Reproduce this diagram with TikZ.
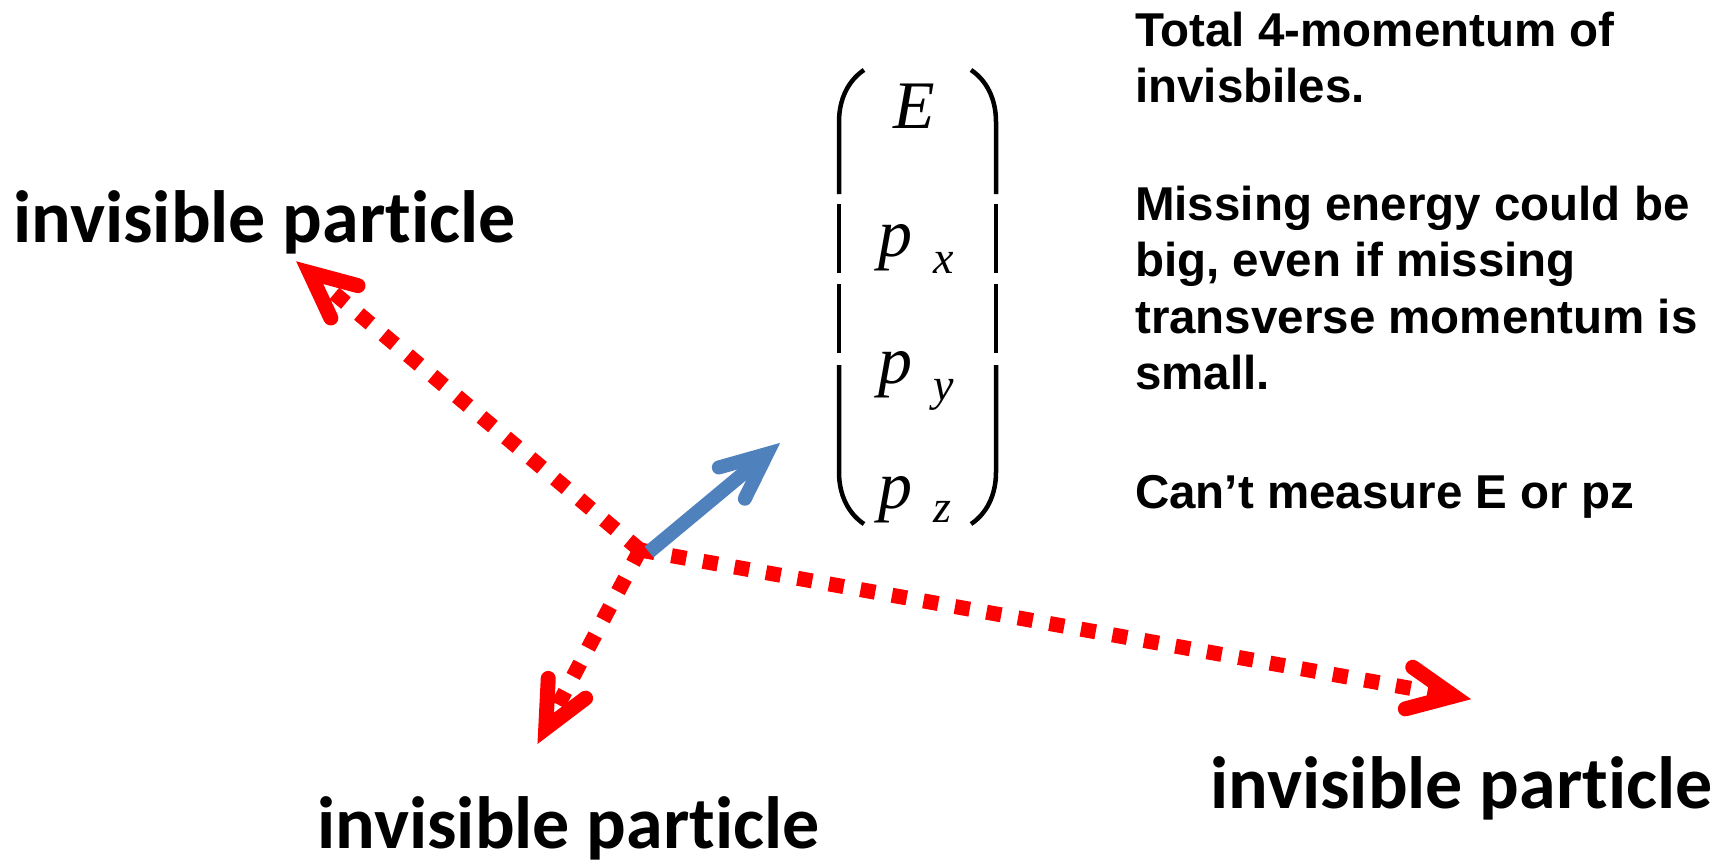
\documentclass[tikz,border=0pt]{standalone}
\usepackage{fontspec}
\setmainfont{Liberation Serif}
\newfontfamily\labelfont[Ligatures={NoCommon,NoContextual}]{Carlito}
\newfontfamily\notefont{Liberation Sans}
\newfontfamily\entfont{Liberation Serif}
\usetikzlibrary{calc}
\definecolor{arrowblue}{HTML}{4F81BD}
\begin{document}
\begin{tikzpicture}[x=1pt,y=-1pt,
  redline/.style={draw=red, line width=15pt, dash pattern=on 15pt off 17pt},
  redhead/.style={draw=red, line width=15pt, line cap=round, line join=miter, miter limit=10},
  blueline/.style={draw=arrowblue, line width=14pt},
  bluehead/.style={draw=arrowblue, line width=14pt, line cap=round, line join=miter, miter limit=10},
  lbl/.style={font=\labelfont\bfseries\fontsize{74}{88}\selectfont, anchor=base west, inner sep=0pt},
  note/.style={font=\notefont\bfseries\fontsize{47.5}{57}\selectfont, anchor=base west, inner sep=0pt},
  ent/.style={font=\entfont\itshape\fontsize{68}{76}\selectfont, inner sep=0pt},
  subs/.style={font=\entfont\itshape\fontsize{46}{52}\selectfont, anchor=base west, inner sep=0pt},
  paren/.style={draw=black, line width=4.5pt}]
\useasboundingbox (0,0) rectangle (1729,865);

% labels
\node[lbl] (l1) at (13,242) {invisible particle};
\node[lbl] (l2) at (317,848) {invisible particle};
\node[lbl] (l3) at (1210,808) {invisible particle};

% notes
\node[note] (n1) at (1135,46) {Total 4-momentum of};
\node[note] (n2) at (1135,102.5) {invisbiles.};
\node[note] (n3) at (1135,220) {Missing energy could be};
\node[note] (n4) at (1135,276.5) {big, even if missing};
\node[note] (n5) at (1135,333) {transverse momentum is};
\node[note] (n6) at (1135,389.5) {small.};
\node[note] (n7) at (1135,508) {Can’t measure E or pz};

% vector entries
\node[ent, anchor=base] (eE) at (914,128) {E};
\node[ent, anchor=base west] (ex) at (878,256) {p};
\node[subs] (sx) at (933,273) {x};
\node[ent, anchor=base west] (ey) at (878,383) {p};
\node[subs] (sy) at (933,400) {y};
\node[ent, anchor=base west] (ez) at (878,508) {p};
\node[subs] (sz) at (933,522) {z};

% parentheses
\draw[paren] (864,70) .. controls (849,80) and (839,98) .. (839,122) -- (839,194);
\draw[paren] (839,204) -- (839,273);
\draw[paren] (839,284) -- (839,353);
\draw[paren] (839,365) -- (839,472) .. controls (839,496) and (849,514) .. (864,524);
\draw[paren] (971,70) .. controls (986,80) and (996,98) .. (996,122) -- (996,194);
\draw[paren] (996,204) -- (996,273);
\draw[paren] (996,284) -- (996,353);
\draw[paren] (996,365) -- (996,472) .. controls (996,496) and (986,514) .. (971,524);

% arrows
\coordinate (O) at (640,550);
\coordinate (Ob) at (649,552);
\coordinate (Tul) at (297,262);
\coordinate (Tll) at (538,743);
\coordinate (Tr) at (1470,699);
\coordinate (Tb) at (780,443);
\coordinate (Vul) at ($(Tul)!16.6pt!(O)$);
\coordinate (Vll) at ($(Tll)!16.6pt!(O)$);
\coordinate (Vr) at ($(Tr)!16.6pt!(O)$);
\coordinate (Vb) at ($(Tb)!17pt!(Ob)$);

\draw[redline] (O) -- (Vul);
\draw[redline] (O) -- (Vll);
\draw[redline] (O) -- (Vr);
\draw[redhead] ($(Vul)!50pt!25:(O)$) -- (Vul) -- ($(Vul)!50pt!-25:(O)$);
\draw[redhead] ($(Vll)!50pt!25:(O)$) -- (Vll) -- ($(Vll)!50pt!-25:(O)$);
\draw[redhead] ($(Vr)!50pt!25:(O)$) -- (Vr) -- ($(Vr)!50pt!-25:(O)$);
\draw[blueline] (Ob) -- (Vb);
\draw[bluehead] ($(Vb)!50pt!24:(Ob)$) -- (Vb) -- ($(Vb)!50pt!-24:(Ob)$);
\end{tikzpicture}
\end{document}
